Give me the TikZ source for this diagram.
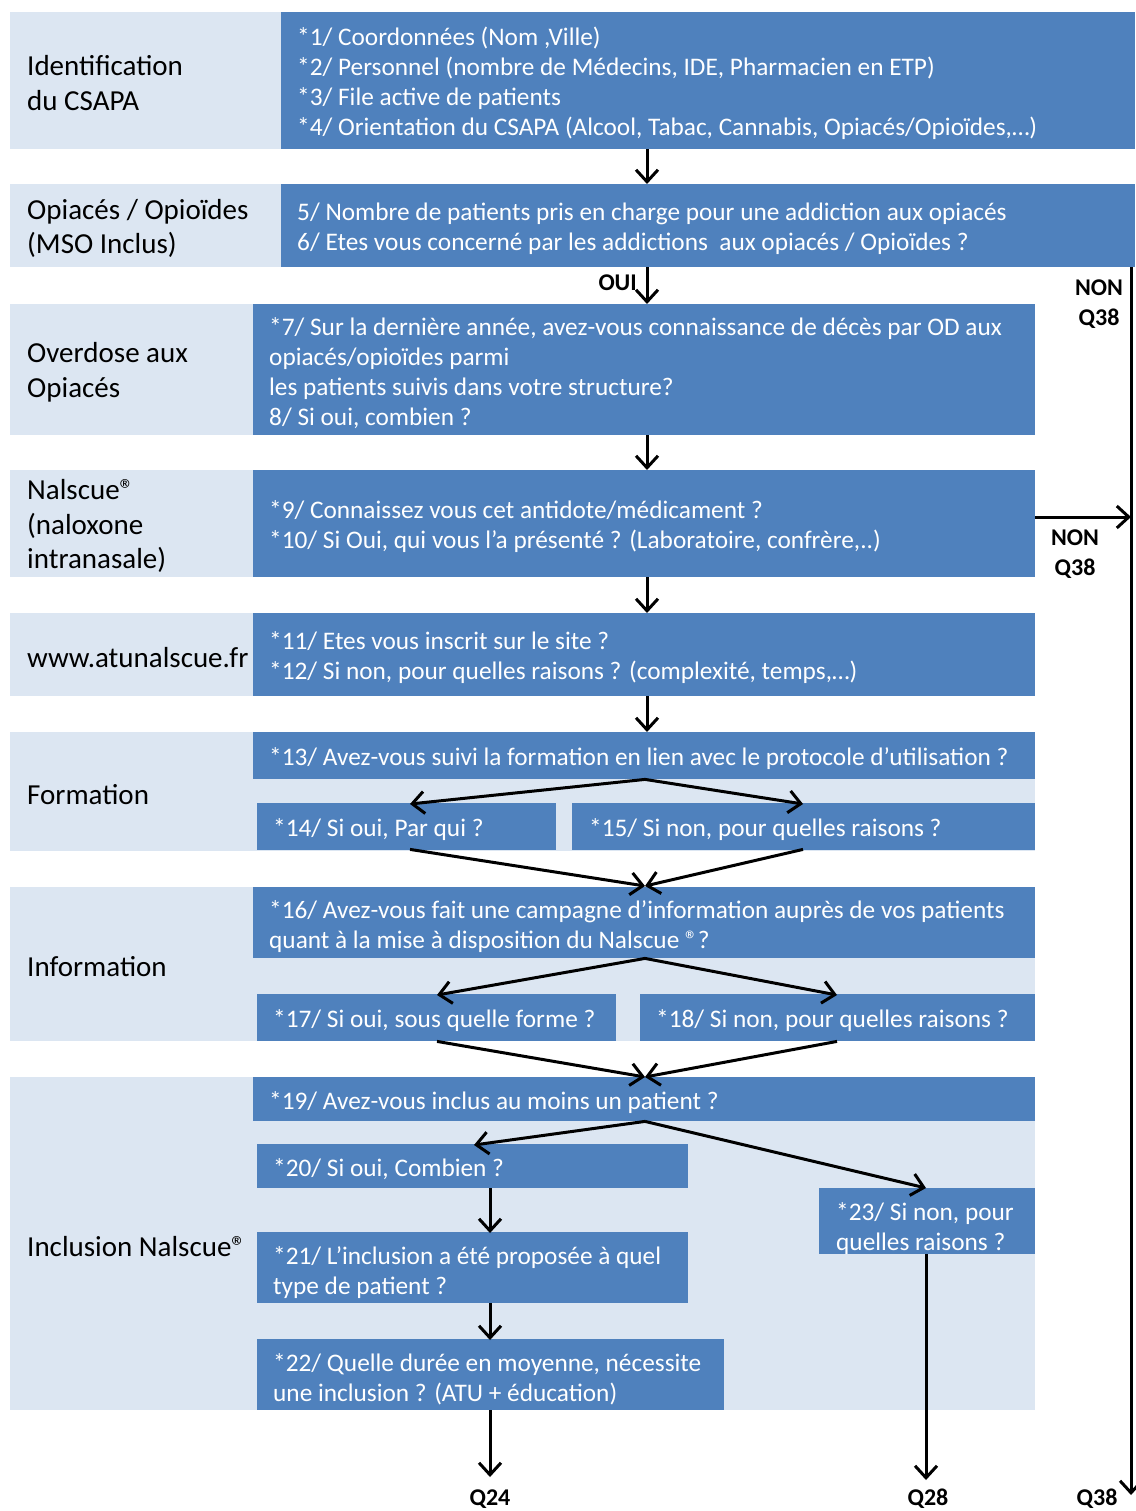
\documentclass[tikz,border=0pt]{standalone}
\usepackage{fontspec}
\setmainfont{Carlito}
\usetikzlibrary{arrows.meta}
\definecolor{dk}{HTML}{4F81BD}
\definecolor{lt}{HTML}{DCE6F2}
\begin{document}
\begin{tikzpicture}[x=1pt,y=-1pt,
  lbg/.style={fill=lt,draw=none,inner sep=0pt,anchor=north west},
  dbox/.style={fill=dk,draw=none,inner sep=0pt,anchor=north west},
  wt/.style={anchor=west,align=left,text=white,inner sep=0pt,yshift=-3pt,font=\fontsize{25.3}{30}\selectfont},
  lbl/.style={anchor=west,align=left,text=black,inner sep=0pt,yshift=-2.5pt,font=\fontsize{29}{34.5}\selectfont},
  bl/.style={align=center,inner sep=0pt,yshift=-2pt,font=\bfseries\fontsize{24}{30}\selectfont},
  ql/.style={anchor=south,inner sep=0pt,font=\bfseries\fontsize{24}{30}\selectfont},
  arr/.style={line width=3pt,-{Straight Barb[length=12pt,width=22pt,line width=3pt]}}
]
\useasboundingbox (0,0) rectangle (1135,1511);
\fill[white] (0,0) rectangle (1135,1511);

% ---- section backgrounds ----
\node[lbg,minimum width=271,minimum height=137] (l1) at (10,12) {};
\node[lbg,minimum width=271,minimum height=83] (l2) at (10,184) {};
\node[lbg,minimum width=243,minimum height=131] (l3) at (10,304) {};
\node[lbg,minimum width=243,minimum height=107] (l4) at (10,470) {};
\node[lbg,minimum width=243,minimum height=83] (l5) at (10,613) {};
\node[lbg,minimum width=1025,minimum height=119] (l6) at (10,732) {};
\node[lbg,minimum width=1025,minimum height=154] (l7) at (10,887) {};
\node[lbg,minimum width=1025,minimum height=333] (l8) at (10,1077) {};

% ---- dark boxes ----
\node[dbox,minimum width=854,minimum height=137] (b1) at (281,12) {};
\node[dbox,minimum width=854,minimum height=83] (b2) at (281,184) {};
\node[dbox,minimum width=782,minimum height=131] (b3) at (253,304) {};
\node[dbox,minimum width=782,minimum height=107] (b4) at (253,470) {};
\node[dbox,minimum width=782,minimum height=83] (b5) at (253,613) {};
\node[dbox,minimum width=782,minimum height=47] (b13) at (253,732) {};
\node[dbox,minimum width=299,minimum height=47] (b14) at (257,803) {};
\node[dbox,minimum width=463,minimum height=47] (b15) at (572,803) {};
\node[dbox,minimum width=782,minimum height=71] (b16) at (253,887) {};
\node[dbox,minimum width=359,minimum height=47] (b17) at (257,994) {};
\node[dbox,minimum width=395,minimum height=47] (b18) at (640,994) {};
\node[dbox,minimum width=782,minimum height=44] (b19) at (253,1077) {};
\node[dbox,minimum width=431,minimum height=44] (b20) at (257,1144) {};
\node[dbox,minimum width=431,minimum height=71] (b21) at (257,1232) {};
\node[dbox,minimum width=467,minimum height=71] (b22) at (257,1339) {};
\node[dbox,minimum width=216,minimum height=66] (b23) at (819,1188) {};

% ---- left labels ----
\node[lbl] (s1) at ([xshift=17pt]l1.west) {Identification\\du CSAPA};
\node[lbl] (s2) at ([xshift=17pt]l2.west) {Opiacés / Opioïdes\\(MSO Inclus)};
\node[lbl] (s3) at ([xshift=17pt]l3.west) {Overdose aux\\Opiacés};
\node[lbl] (s4) at ([xshift=17pt]l4.west) {Nalscue®\\(naloxone\\intranasale)};
\node[lbl] (s5) at ([xshift=17pt]l5.west) {www.atunalscue.fr};
\node[lbl] (s6) at ([xshift=17pt]l6.west) {Formation};
\node[lbl] (s7) at ([xshift=17pt]l7.west) {Information};
\node[lbl] (s8) at ([xshift=17pt]l8.west) {Inclusion Nalscue®};

% ---- box texts ----
\node[wt] (t1) at ([xshift=16pt]b1.west) {*1/ Coordonnées (Nom ,Ville)\\*2/ Personnel (nombre de Médecins, IDE, Pharmacien en ETP)\\*3/ File active de patients\\*4/ Orientation du CSAPA (Alcool, Tabac, Cannabis, Opiacés/Opioïdes,…)};
\node[wt] (t2) at ([xshift=16pt]b2.west) {5/ Nombre de patients pris en charge pour une addiction aux opiacés\\6/ Etes vous concerné par les addictions\ \ aux opiacés / Opioïdes ?};
\node[wt] (t3) at ([xshift=16pt]b3.west) {*7/ Sur la dernière année, avez-vous connaissance de décès par OD aux\\opiacés/opioïdes parmi\\les patients suivis dans votre structure?\\8/ Si oui, combien ?};
\node[wt] (t4) at ([xshift=16pt]b4.west) {*9/ Connaissez vous cet antidote/médicament ?\\*10/ Si Oui, qui vous l’a présenté ? (Laboratoire, confrère,..)};
\node[wt] (t5) at ([xshift=16pt]b5.west) {*11/ Etes vous inscrit sur le site ?\\*12/ Si non, pour quelles raisons ? (complexité, temps,…)};
\node[wt] (t13) at ([xshift=16pt]b13.west) {*13/ Avez-vous suivi la formation en lien avec le protocole d’utilisation ?};
\node[wt] (t14) at ([xshift=16pt]b14.west) {*14/ Si oui, Par qui ?};
\node[wt] (t15) at ([xshift=17pt]b15.west) {*15/ Si non, pour quelles raisons ?};
\node[wt,yshift=-1pt] (t16) at ([xshift=16pt]b16.west) {*16/ Avez-vous fait une campagne d’information auprès de vos patients\\quant à la mise à disposition du Nalscue ®?};
\node[wt] (t17) at ([xshift=16pt]b17.west) {*17/ Si oui, sous quelle forme ?};
\node[wt] (t18) at ([xshift=16pt]b18.west) {*18/ Si non, pour quelles raisons ?};
\node[wt] (t19) at ([xshift=16pt]b19.west) {*19/ Avez-vous inclus au moins un patient ?};
\node[wt] (t20) at ([xshift=16pt]b20.west) {*20/ Si oui, Combien ?};
\node[wt,yshift=-2pt] (t21) at ([xshift=16pt]b21.west) {*21/ L’inclusion a été proposée à quel\\type de patient ?};
\node[wt,yshift=-2pt] (t22) at ([xshift=16pt]b22.west) {*22/ Quelle durée en moyenne, nécessite\\une inclusion ? (ATU + éducation)};
\node[wt,yshift=-4pt] (t23) at ([xshift=17pt]b23.west) {*23/ Si non, pour\\quelles raisons ?};

% ---- bold labels ----
\node[bl,anchor=east] (oui) at (637,281) {OUI};
\node[bl] (non1) at (1099,302) {NON\\Q38};
\node[bl] (non2) at (1075,552) {NON\\Q38};
\node[ql] (q24) at (490,1509) {Q24};
\node[ql] (q28) at (928,1509) {Q28};
\node[ql] (q38) at (1097,1509) {Q38};

% ---- helper coordinates ----
\coordinate (cx) at (647,0);
\coordinate (fx) at (645,0);
\coordinate (x410) at (410,0);
\coordinate (x803) at (803,0);
\coordinate (x437) at (437,0);
\coordinate (x837) at (837,0);
\coordinate (x474) at (474,0);
\coordinate (x490) at (490,0);
\coordinate (x926) at (926,0);
\coordinate (vx) at (1131,0);
\coordinate (e24) at (490,1477);
\coordinate (e28) at (926,1480);
\coordinate (e38) at (1131,1495);
\coordinate (side) at (1035,517);
\coordinate (m16) at (645,886);
\coordinate (m19) at (645,1077);

% ---- connectors ----
\draw[arr] (b1.south -| cx) -- (b2.north -| cx);
\draw[arr] (b2.south -| cx) -- (b3.north -| cx);
\draw[arr] (b3.south -| cx) -- (b4.north -| cx);
\draw[arr] (b4.south -| cx) -- (b5.north -| cx);
\draw[arr] (b5.south -| cx) -- (b13.north -| cx);

\draw[arr] (b13.south -| fx) -- ([yshift=-1pt]b14.north -| x410);
\draw[arr] (b13.south -| fx) -- ([yshift=-1pt]b15.north -| x803);
\draw[arr] ([yshift=1pt]b14.south -| x410) -- (m16);
\draw[arr] ([yshift=1pt]b15.south -| x803) -- (m16);

\draw[arr] (b16.south -| fx) -- ([yshift=-1pt]b17.north -| x437);
\draw[arr] (b16.south -| fx) -- ([yshift=-1pt]b18.north -| x837);
\draw[arr] (b17.south -| x437) -- (m19);
\draw[arr] (b18.south -| x837) -- (m19);

\draw[arr] (b19.south -| fx) -- ([yshift=-1pt]b20.north -| x474);
\draw[arr] (b19.south -| fx) -- (b23.north -| x926);
\draw[arr] (b20.south -| x490) -- ([yshift=-1pt]b21.north -| x490);
\draw[arr] (b21.south -| x490) -- ([yshift=-1pt]b22.north -| x490);
\draw[arr] (b22.south -| x490) -- (e24);
\draw[arr] (b23.south -| x926) -- (e28);

\draw[arr] (b2.south east -| vx) -- (e38);
\draw[arr] (side) -- (side -| vx);
\end{tikzpicture}
\end{document}
